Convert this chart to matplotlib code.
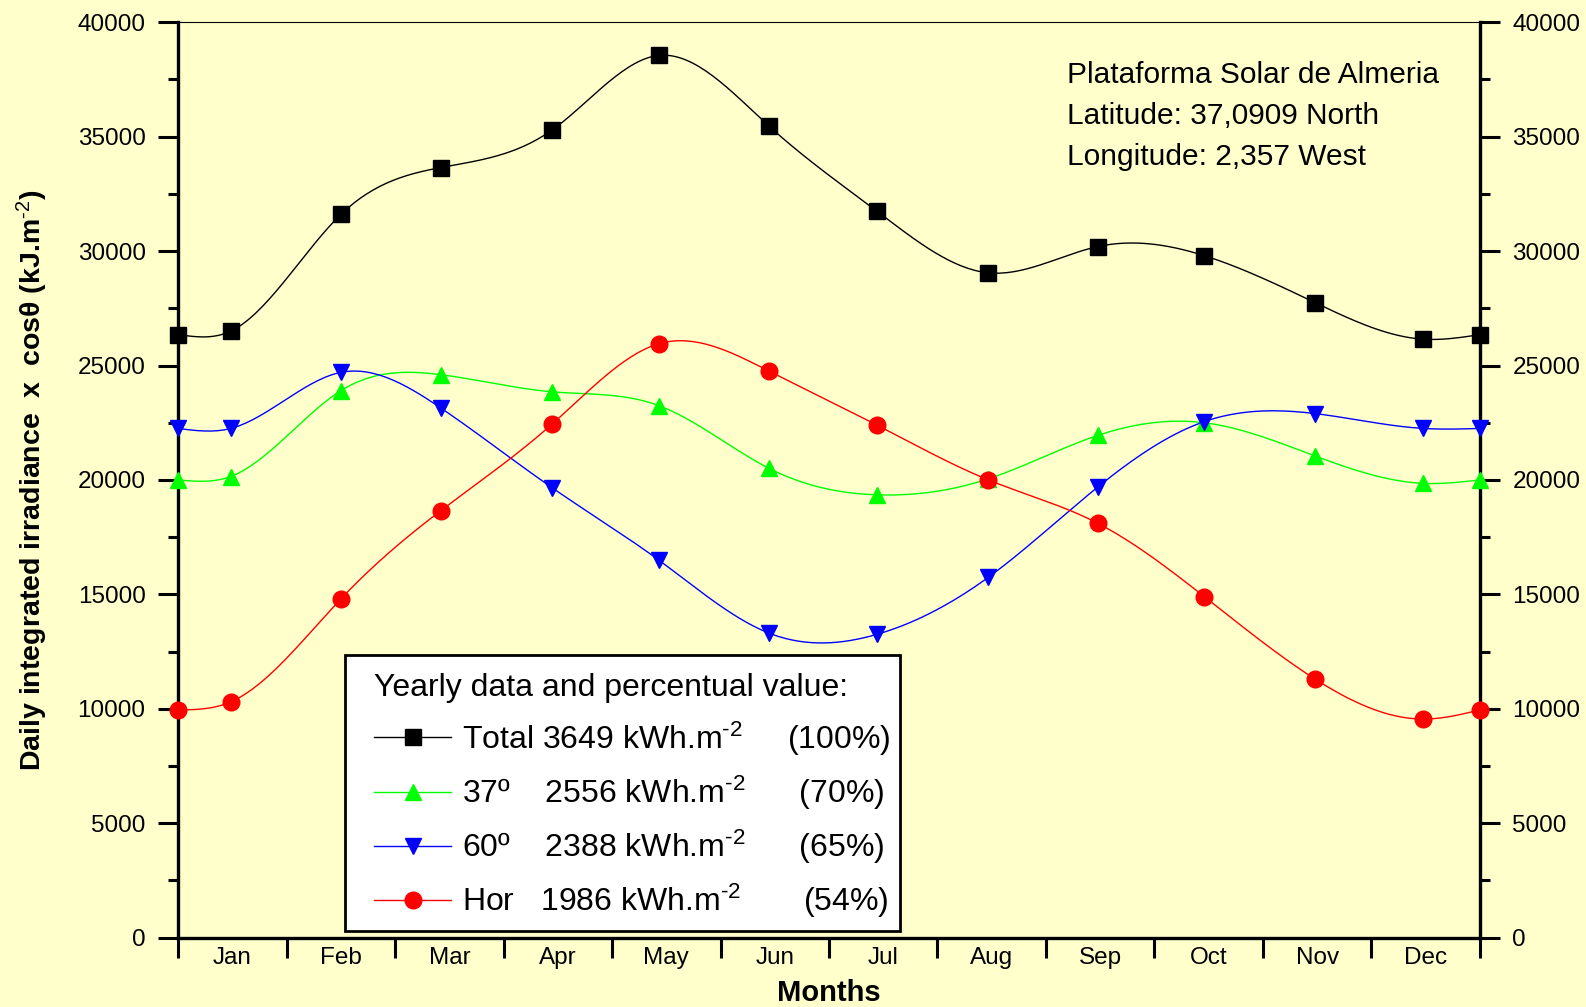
import matplotlib
matplotlib.use("Agg")
import matplotlib.pyplot as plt
from matplotlib.patches import Rectangle
import numpy as np

plt.rcParams['font.family'] = ['Liberation Sans', 'DejaVu Sans']
plt.rcParams['mathtext.fontset'] = 'custom'
plt.rcParams['mathtext.rm'] = 'Liberation Sans'
plt.rcParams['mathtext.it'] = 'Liberation Sans:italic'
plt.rcParams['mathtext.bf'] = 'Liberation Sans:bold'

BG = '#FFFFCC'

# data (month position, daily integrated irradiance kJ/m2)
months = ['Jan', 'Feb', 'Mar', 'Apr', 'May', 'Jun', 'Jul', 'Aug', 'Sep', 'Oct', 'Nov', 'Dec']
xpos = [0, 0.485, 1.5, 2.42, 3.45, 4.43, 5.45, 6.44, 7.47, 8.48, 9.46, 10.48, 11.48, 12]
total = [26350, 26500, 31600, 33650, 35300, 38550, 35450, 31750, 29050, 30200, 29800, 27750, 26150, 26350]
tilt37 = [20000, 20150, 23900, 24600, 23850, 23250, 20500, 19350, 20050, 21950, 22500, 21050, 19850, 20000]
tilt60 = [22250, 22250, 24700, 23150, 19650, 16500, 13300, 13250, 15750, 19700, 22550, 22900, 22250, 22250]
horiz = [9950, 10300, 14800, 18650, 22450, 25950, 24750, 22400, 20000, 18100, 14900, 11300, 9550, 9950]

labels = [r'Total 3649 kWh.m$^{\text{-2}}$     (100%)',
          r'37º    2556 kWh.m$^{\text{-2}}$      (70%)',
          r'60º    2388 kWh.m$^{\text{-2}}$      (65%)',
          r'Hor   1986 kWh.m$^{\text{-2}}$       (54%)']
colors = ['black', '#00FF00', '#0000FF', '#FF0000']
markers = ['s', '^', 'v', 'o']


def spline(x, y, n=400):
    # natural cubic spline, drawn like the smooth connect lines
    x = np.asarray(x, float)
    y = np.asarray(y, float)
    k = len(x)
    h = np.diff(x)
    A = np.zeros((k, k))
    b = np.zeros(k)
    A[0, 0] = A[-1, -1] = 1
    for i in range(1, k - 1):
        A[i, i - 1] = h[i - 1]
        A[i, i] = 2 * (h[i - 1] + h[i])
        A[i, i + 1] = h[i]
        b[i] = 6 * ((y[i + 1] - y[i]) / h[i] - (y[i] - y[i - 1]) / h[i - 1])
    M = np.linalg.solve(A, b)
    xs = np.linspace(x[0], x[-1], n)
    j = np.clip(np.searchsorted(x, xs) - 1, 0, k - 2)
    t0 = x[j + 1] - xs
    t1 = xs - x[j]
    hj = h[j]
    ys = (M[j] * t0 ** 3 + M[j + 1] * t1 ** 3) / (6 * hj) \
        + (y[j] / hj - M[j] * hj / 6) * t0 + (y[j + 1] / hj - M[j + 1] * hj / 6) * t1
    return xs, ys


fig = plt.figure(figsize=(15.86, 10.07), dpi=100, facecolor=BG)
ax = fig.add_axes([0.1123, 0.0689, 0.8208, 0.909])
ax.set_facecolor(BG)

handles = []
for series, c, m, lab in zip([total, tilt37, tilt60, horiz], colors, markers, labels):
    xs, ys = spline(xpos, series)
    ax.plot(xs, ys, color=c, lw=1.0, zorder=2)
    ax.plot(xpos, series, ls='none', marker=m, color=c, ms=11 if m != 'o' else 12, zorder=3,
            clip_on=False)
    handles.append(plt.Line2D([], [], color=c, lw=1.0, marker=m, ms=12))

ax.set_xlim(0, 12)
ax.set_ylim(0, 40000)

ax.set_xticks(np.arange(0, 13))
ax.set_xticklabels([])
ax.set_xticks(np.arange(0.5, 12), minor=True)
ax.set_xticklabels(months, minor=True, fontsize=17.5)
ax.tick_params(axis='x', which='major', direction='out', length=14.4, width=2.2)
ax.tick_params(axis='x', which='minor', length=0, pad=7)

ax.set_yticks(np.arange(0, 40001, 5000))
ax.set_yticks(np.arange(2500, 40000, 5000), minor=True)
ax.tick_params(axis='y', which='major', direction='out', length=14.4, width=2.2, pad=9,
               labelsize=17.5, right=True, labelright=True)
ax.tick_params(axis='y', which='minor', direction='out', length=7, width=2.2, right=True)

for s in ['left', 'right', 'bottom']:
    ax.spines[s].set_linewidth(2.4)
ax.spines['top'].set_linewidth(0.8)

ax.set_xlabel('Months', fontsize=21, fontweight='bold', labelpad=7)
ax.set_ylabel(r'Daily integrated irradiance  x  cosθ (kJ.m$^{\text{-2}}$)',
              fontsize=20.5, fontweight='bold', labelpad=20)

ax.text(0.683, 0.958, 'Plataforma Solar de Almeria\nLatitude: 37,0909 North\nLongitude: 2,357 West',
        transform=ax.transAxes, fontsize=21.5, va='top', ha='left', linespacing=1.6)

# legend box: white frame drawn separately so the inner margins follow the original
ax.add_patch(Rectangle((0.1282, 0.0077), 0.4266, 0.3006, transform=ax.transAxes,
                       facecolor='white', edgecolor='black', lw=2.0, zorder=4.5))
leg = ax.legend(handles, labels, title='Yearly data and percentual value:',
                loc='upper left', bbox_to_anchor=(0.1507, 0.2888), borderaxespad=0,
                fontsize=23, title_fontsize=23, alignment='left', frameon=False,
                handlelength=2.4, labelspacing=0.5, borderpad=0, handletextpad=0.35)
leg.set_zorder(5)

fig.savefig('out.png', dpi=100, facecolor=BG)
